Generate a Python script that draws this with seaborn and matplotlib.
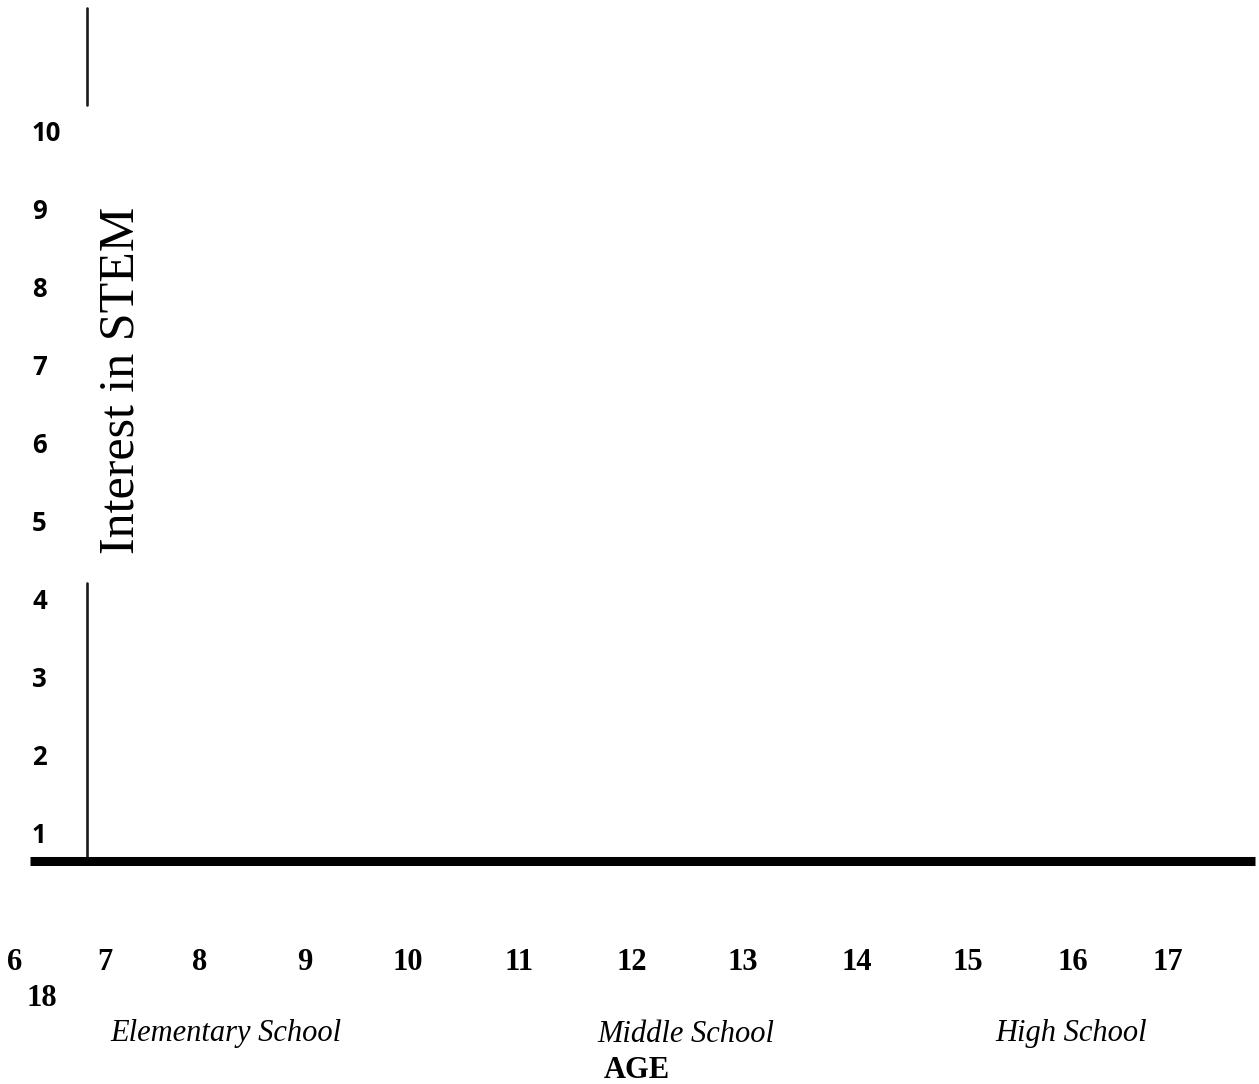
import matplotlib
matplotlib.use("Agg")
import matplotlib.pyplot as plt
import seaborn as sns

# chart content (an empty template: axes only, no data marks)
interest_levels = [1, 2, 3, 4, 5, 6, 7, 8, 9, 10]
ages = [6, 7, 8, 9, 10, 11, 12, 13, 14, 15, 16, 17]
last_age = 18
school_stages = ["Elementary School", "Middle School", "High School"]
y_title = "Interest in STEM"
x_title = "AGE"

# layout (pixels in the 1259x1084 figure)
W, H = 1259, 1084
age_label_x = [15, 105, 200, 305, 408, 519, 632, 743, 857, 968, 1073, 1168]
stage_label_x = [226, 686, 1071]

sns.set_style("white")
plt.rcParams["text.color"] = "black"
plt.rcParams["ytick.color"] = "black"
plt.rcParams["ytick.labelcolor"] = "black"

fig = plt.figure(figsize=(W / 100, H / 100), dpi=100)

ax_left, ax_right, ax_top, ax_bottom = 87, 1255, 8, 861
ax = fig.add_axes([ax_left / W, 1 - ax_bottom / H,
                   (ax_right - ax_left) / W, (ax_bottom - ax_top) / H])
ax.set_ylim(0.641, 11.562)
ax.set_xlim(0, 1)
sns.despine(ax=ax, left=True, bottom=True)
ax.set_xticks([])

# y ticks: bold humanist sans, left-aligned
ax.set_yticks(interest_levels)
ax.set_yticklabels([str(v) for v in interest_levels],
                   fontfamily="Open Sans", fontweight="bold", fontsize=18.5,
                   ha="left", color="black")
ax.tick_params(axis="y", length=0, pad=(ax_left - 32) / 100 * 72)

# vertical axis line, interrupted behind the axis title
ax.axvline(0, ymin=0, ymax=(ax_bottom - 583) / (ax_bottom - ax_top),
           color="#1a1a1a", lw=1.9, clip_on=False)
ax.axvline(0, ymin=(ax_bottom - 105) / (ax_bottom - ax_top), ymax=1,
           color="#1a1a1a", lw=1.9, clip_on=False)

# thick baseline, reaching left of the vertical line
ax.plot([(30 - ax_left) / (ax_right - ax_left), 1], [0.641, 0.641],
        transform=ax.get_yaxis_transform(), color="black", lw=6.5,
        solid_capstyle="butt", clip_on=False)

def px(x, y):
    return x / W, 1 - y / H

serif = "Liberation Serif"
fig.text(*px(121, 380), y_title, rotation=90, fontfamily=serif, fontsize=36,
         ha="center", va="center")

for age, x in zip(ages, age_label_x):
    fig.text(*px(x, 963), str(age), fontfamily=serif, fontweight="bold",
             fontsize=22, ha="center", va="center")
fig.text(*px(42, 998), str(last_age), fontfamily=serif, fontweight="bold",
         fontsize=22, ha="center", va="center")

for stage, x in zip(school_stages, stage_label_x):
    fig.text(*px(x, 1034), stage, fontfamily=serif, fontstyle="italic",
             fontsize=22, ha="center", va="center")

fig.text(*px(637, 1070), x_title, fontfamily=serif, fontweight="bold",
         fontsize=22, ha="center", va="center")

fig.savefig("out.png", dpi=100)
plt.close(fig)
